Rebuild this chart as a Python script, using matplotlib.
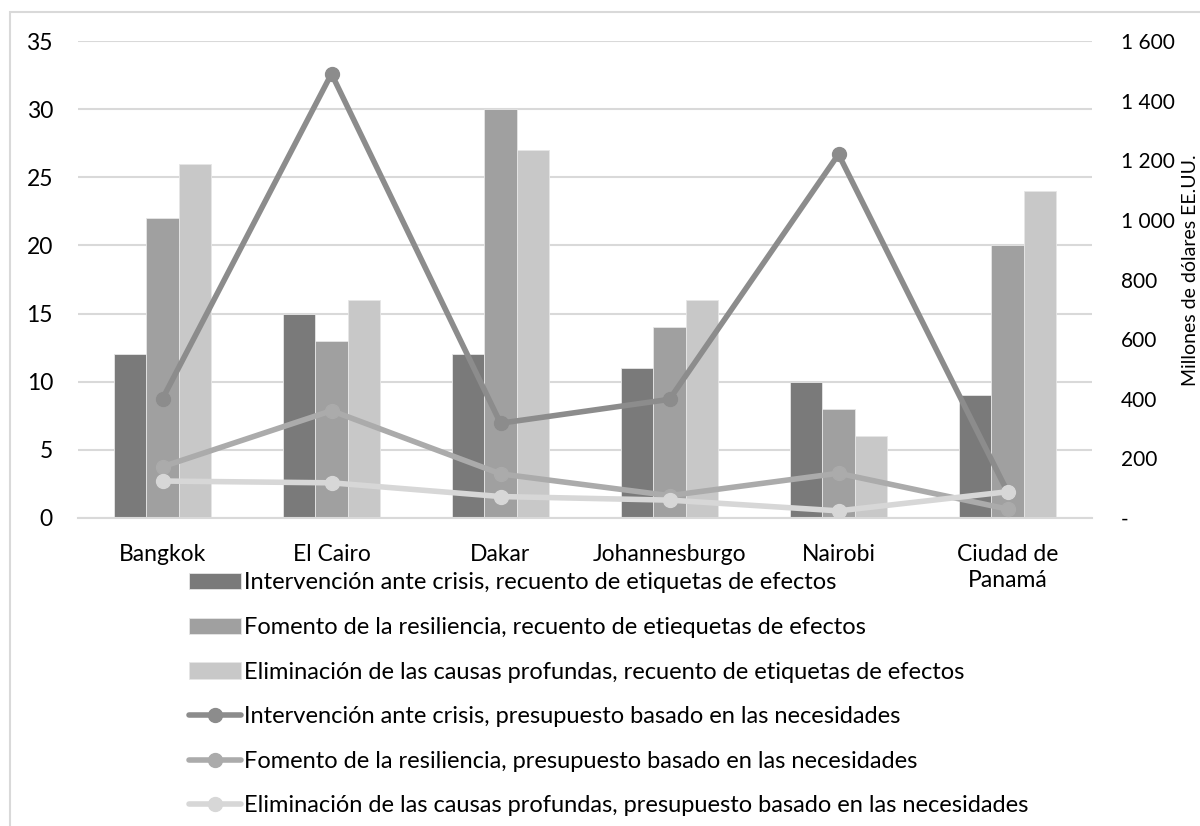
import matplotlib.pyplot as plt
import numpy as np
from matplotlib.patches import Rectangle

plt.rcParams['font.family'] = ['Lato', 'DejaVu Sans']

cities = ['Bangkok', 'El Cairo', 'Dakar', 'Johannesburgo', 'Nairobi', 'Ciudad de\nPanamá']

# recuento de etiquetas de efectos (eje izquierdo)
crisis_count = [12, 15, 12, 11, 10, 9]
resil_count = [22, 13, 30, 14, 8, 20]
causes_count = [26, 16, 27, 16, 6, 24]

# presupuesto basado en las necesidades, millones USD (eje derecho)
crisis_budget = [400, 1490, 318, 398, 1220, 88]
resil_budget = [172, 360, 148, 75, 150, 30]
causes_budget = [124, 118, 72, 60, 24, 88]

labels = [
    'Intervención ante crisis, recuento de etiquetas de efectos',
    'Fomento de la resiliencia, recuento de etiequetas de efectos',
    'Eliminación de las causas profundas, recuento de etiquetas de efectos',
    'Intervención ante crisis, presupuesto basado en las necesidades',
    'Fomento de la resiliencia, presupuesto basado en las necesidades',
    'Eliminación de las causas profundas, presupuesto basado en las necesidades',
]

bar_colors = ['#7a7a7a', '#a0a0a0', '#c8c8c8']
line_colors = ['#8c8c8c', '#ababab', '#d7d7d7']

fig = plt.figure(figsize=(12, 8.26), dpi=100)
fig.patches.append(Rectangle((10 / 1200, -0.01), 1.0, 1 - 12 / 826 + 0.01,
                             transform=fig.transFigure, fill=False,
                             edgecolor='#d9d9d9', linewidth=1.5))

ax = fig.add_axes([78 / 1200, 1 - 518 / 826, (1092 - 78) / 1200, (518 - 41) / 826])
ax2 = ax.twinx()

x = np.arange(len(cities))
w = 0.193
handles = []
for i, vals in enumerate([crisis_count, resil_count, causes_count]):
    b = ax.bar(x + (i - 1) * w, vals, w, color=bar_colors[i], edgecolor='#e6e6e6',
               linewidth=0.6, zorder=2)
    handles.append(b)

for i, vals in enumerate([crisis_budget, resil_budget, causes_budget]):
    l, = ax2.plot(x, vals, color=line_colors[i], linewidth=4, marker='o',
                  markersize=10, solid_capstyle='round', zorder=3)
    handles.append(l)

ax.set_xlim(-0.5, len(cities) - 0.5)
ax.set_ylim(0, 35)
ax.set_yticks(range(0, 36, 5))
ax2.set_ylim(0, 1600)
ax2.set_yticks(range(0, 1601, 200))
ax2.set_yticklabels(['-' if v == 0 else f'{v:,}'.replace(',', ' ') for v in range(0, 1601, 200)])

ax.yaxis.grid(True, color='#d9d9d9', linewidth=1.5, zorder=0)
ax.set_axisbelow(True)
for a in (ax, ax2):
    for s in a.spines.values():
        s.set_visible(False)
ax.spines['bottom'].set_visible(True)
ax.spines['bottom'].set_color('#d9d9d9')
ax.spines['bottom'].set_linewidth(1.5)

fs = 16.5
ax.set_xticks(x)
ax.set_xticklabels(cities, fontsize=fs, linespacing=1.3)
ax.tick_params(axis='x', length=0, pad=19)
ax.tick_params(axis='y', length=0, labelsize=fs, pad=18)
ax2.tick_params(axis='y', length=0, labelsize=15, pad=21)
ax2.set_ylabel('Millones de dólares EE.UU.', fontsize=14)
ax2.yaxis.set_label_coords((1182 - 78) / (1092 - 78), 0.52)

for t in ax2.get_yticklabels():
    t.set_horizontalalignment('left')

fig.legend(handles, labels, loc='upper left', bbox_to_anchor=(180 / 1200, 1 - 563 / 826),
           frameon=False, fontsize=17, handlelength=2.2, handletextpad=0.1,
           labelspacing=1.0, borderaxespad=0)

fig.savefig('out.png', dpi=100)
